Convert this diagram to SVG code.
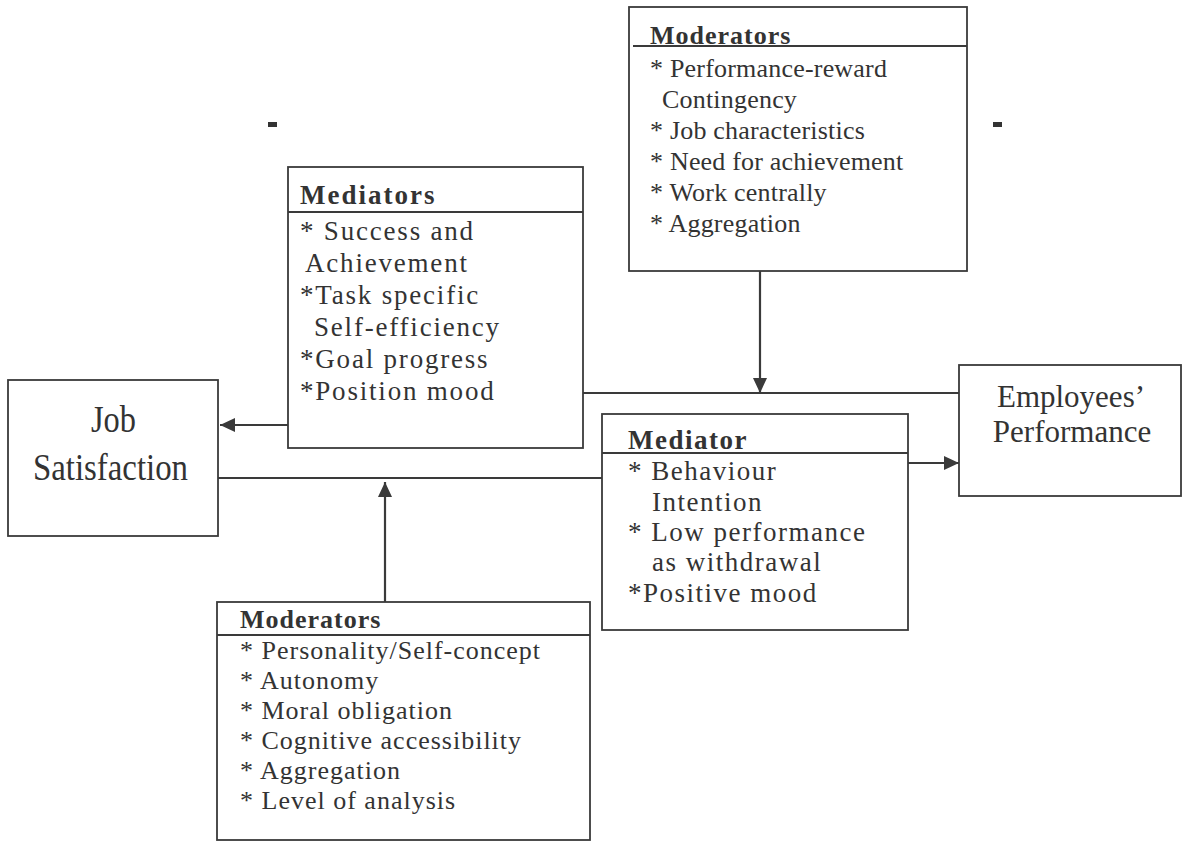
<svg xmlns="http://www.w3.org/2000/svg" width="1182" height="841" viewBox="0 0 1182 841">
<style>
.box{fill:#fff;stroke:#3a3a3a;stroke-width:1.8}
.hl{stroke:#3a3a3a;stroke-width:1.8;fill:none}
.ln{stroke:#3a3a3a;stroke-width:2.2;fill:none}
.t{font-family:"Liberation Serif","Times New Roman",serif;fill:#333;font-size:26px}
.h{font-weight:bold;letter-spacing:1px}
.big{font-size:38px}
.emp{font-size:31px}
</style>
<defs>
<marker id="ah" markerUnits="userSpaceOnUse" markerWidth="16" markerHeight="16" viewBox="0 0 16 16" refX="15" refY="8" orient="auto">
<path d="M0,1 L15,8 L0,15 Z" fill="#3a3a3a"/>
</marker>
</defs>
<rect width="1182" height="841" fill="#fff"/>
<rect x="268" y="122" width="9" height="5" fill="#333"/>
<rect x="993" y="122" width="9" height="5" fill="#333"/>

<g id="connectors">
<line class="ln" x1="288" y1="425" x2="220" y2="425" marker-end="url(#ah)"/>
<line class="ln" x1="218" y1="478" x2="622" y2="478"/>
<line class="ln" x1="385" y1="602" x2="385" y2="482" marker-end="url(#ah)"/>
<line class="ln" x1="760" y1="271" x2="760" y2="393" marker-end="url(#ah)"/>
<line class="ln" x1="583" y1="393" x2="959" y2="393"/>
<line class="ln" x1="908" y1="463" x2="959" y2="463" marker-end="url(#ah)"/>
</g>

<g id="job-satisfaction">
<rect class="box" x="8" y="380" width="210" height="156"/>
<text class="t big" x="91" y="432" textLength="45" lengthAdjust="spacingAndGlyphs">Job</text>
<text class="t big" x="33" y="480" textLength="155" lengthAdjust="spacingAndGlyphs">Satisfaction</text>
</g>

<g id="employees-performance">
<rect class="box" x="959" y="365" width="222" height="131"/>
<text class="t emp" x="1071" y="407" text-anchor="middle">Employees’</text>
<text class="t emp" x="1072" y="442" text-anchor="middle">Performance</text>
</g>

<g id="mediators">
<rect class="box" x="288" y="167" width="295" height="281"/>
<line class="hl" x1="288" y1="212" x2="583" y2="212"/>
<text class="t h" x="300" y="204" style="font-size:27px;letter-spacing:2px">Mediators</text>
<g class="t" style="font-size:27px;letter-spacing:1.8px">
<text x="300" y="240">* Success and</text>
<text x="305" y="272">Achievement</text>
<text x="300" y="304">*Task specific</text>
<text x="314" y="336">Self-efficiency</text>
<text x="300" y="368">*Goal progress</text>
<text x="300" y="400">*Position mood</text>
</g>
</g>

<g id="top-moderators">
<rect class="box" x="629" y="7" width="338" height="264"/>
<line class="hl" x1="633" y1="46" x2="967" y2="46"/>
<text class="t h" x="650" y="44">Moderators</text>
<g class="t" style="letter-spacing:0.2px">
<text x="650" y="77">* Performance-reward</text>
<text x="662" y="108">Contingency</text>
<text x="650" y="139">* Job characteristics</text>
<text x="650" y="170">* Need for achievement</text>
<text x="650" y="201">* Work centrally</text>
<text x="650" y="232">* Aggregation</text>
</g>
</g>

<g id="mediator">
<rect class="box" x="602" y="414" width="306" height="216"/>
<line class="hl" x1="602" y1="453" x2="908" y2="453"/>
<text class="t h" x="628" y="449" style="font-size:27px;letter-spacing:1.5px">Mediator</text>
<g class="t" style="font-size:27px;letter-spacing:1.5px">
<text x="628" y="480">* Behaviour</text>
<text x="652" y="511">Intention</text>
<text x="628" y="541">* Low performance</text>
<text x="652" y="571">as withdrawal</text>
<text x="628" y="602">*Positive mood</text>
</g>
</g>

<g id="bottom-moderators">
<rect class="box" x="217" y="602" width="373" height="238"/>
<line class="hl" x1="217" y1="635" x2="590" y2="635"/>
<text class="t h" x="240" y="628">Moderators</text>
<g class="t" style="letter-spacing:1px">
<text x="240" y="659">* Personality/Self-concept</text>
<text x="240" y="689">* Autonomy</text>
<text x="240" y="719">* Moral obligation</text>
<text x="240" y="749">* Cognitive accessibility</text>
<text x="240" y="779">* Aggregation</text>
<text x="240" y="809">* Level of analysis</text>
</g>
</g>
</svg>
